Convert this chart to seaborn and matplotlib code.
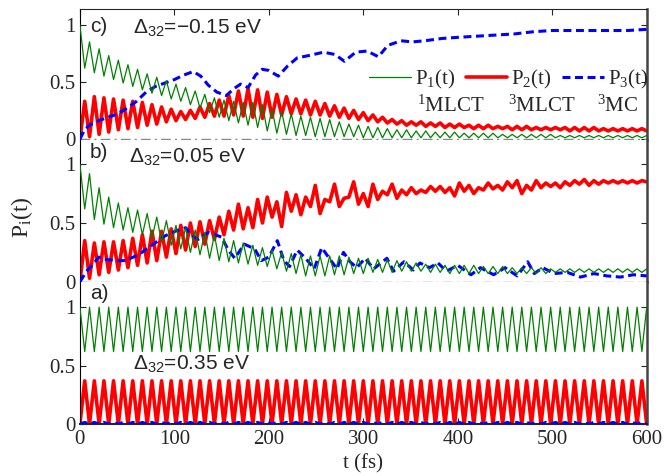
import numpy as np
import pandas as pd
import matplotlib.pyplot as plt
import seaborn as sns

plt.switch_backend('Agg')
sns.set_style("ticks", {"xtick.direction": "in", "ytick.direction": "in"})
plt.rcParams['font.family'] = ['Liberation Serif', 'DejaVu Serif']
plt.rcParams['mathtext.fontset'] = 'custom'
plt.rcParams['mathtext.rm'] = 'Liberation Serif'
plt.rcParams['mathtext.it'] = 'Liberation Serif:italic'
plt.rcParams['mathtext.sf'] = 'Liberation Sans'
plt.rcParams['lines.solid_joinstyle'] = 'round'
plt.rcParams['lines.dash_joinstyle'] = 'round'

# oscillation period (59 green periods in 600 fs)
T_OSC = 600 / 59

# ---- panel c) delta32 = -0.15 eV ----
# green: maxima at t = n*T, minima at t = (n+0.5)*T
c_p1_max = [1.00, .85, .79, .73, .69, .65, .61, .57, .54, .51,
            .48, .45, .42, .39, .36, .34, .33, .32, .32, .30,
            .26, .24, .22, .20, .19, .18, .17, .15, .13, .12,
            .11, .10, .09, .08, .08, .07, .07, .06, .06, .06,
            .05, .05, .05, .05, .04, .04, .04, .04, .04, .04,
            .03, .03, .03, .03, .03, .03, .03, .03, .03, .03]
c_p1_min = [.62, .58, .55, .52, .49, .46, .43, .40, .38, .35,
            .33, .30, .27, .23, .19, .16, .14, .12, .10, .07,
            .05, .04, .03, .03, .02, .02, .02, .02, .02, .01,
            .01, .01, .01, .01, .01, .01, .01, .01, .01, .01,
            .01, .01, .01, .01, .01, .01, .01, .01, .01, .01,
            .01, .01, .01, .01, .01, .01, .01, .01, .01]
# red: minima at t = n*T, maxima at t = (n+0.5)*T
c_p2_min = [.00, .02, .04, .06, .08, .09, .10, .12, .13, .15,
            .16, .17, .18, .19, .20, .20, .21, .20, .19, .18,
            .19, .21, .22, .22, .21, .21, .20, .19, .18, .17,
            .16, .15, .14, .13, .12, .12, .11, .11, .10, .10,
            .10, .09, .09, .09, .09, .08, .08, .08, .08, .08,
            .08, .07, .07, .07, .07, .07, .07, .07, .07, .07]
c_p2_max = [.33, .37, .36, .35, .34, .33, .32, .30, .28, .26,
            .24, .25, .28, .31, .34, .38, .42, .44, .43, .41,
            .39, .37, .35, .34, .33, .31, .29, .27, .25, .23,
            .21, .19, .17, .16, .15, .15, .14, .14, .13, .13,
            .12, .12, .12, .11, .11, .11, .11, .10, .10, .10,
            .10, .10, .10, .10, .09, .09, .09, .09, .09]
c_p3_t = [0, 5, 10, 20, 30, 40, 50, 60, 70, 80,
          90, 100, 110, 120, 128, 136, 145, 155, 163, 170,
          178, 186, 193, 200, 210, 220, 230, 242, 258, 270,
          280, 292, 304, 316, 326, 340, 352, 365, 383, 400,
          420, 440, 460, 481, 500, 520, 540, 560, 580, 600]
c_p3 = [0, .08, .12, .16, .19, .22, .27, .33, .41, .46,
        .49, .52, .56, .59, .55, .47, .41, .38, .44, .48,
        .45, .56, .61, .60, .55, .64, .71, .73, .76, .74,
        .68, .76, .77, .72, .82, .86, .85, .86, .88, .89,
        .90, .91, .92, .94, .95, .95, .95, .95, .95, .96]

# ---- panel b) delta32 = 0.05 eV ----
b_p1_max = [1.00, .92, .80, .72, .67, .63, .61, .58, .55, .52,
            .48, .46, .44, .42, .40, .37, .35, .33, .31, .29,
            .27, .25, .24, .23, .22, .22, .22, .22, .21, .20,
            .20, .19, .19, .18, .17, .16, .15, .15, .14, .14,
            .14, .14, .13, .13, .13, .12, .12, .12, .12, .11,
            .11, .11, .11, .11, .11, .11, .11, .11, .11, .11]
b_p1_min = [.62, .53, .49, .46, .44, .42, .40, .37, .34, .31,
            .28, .25, .23, .20, .18, .17, .16, .15, .14, .13,
            .11, .09, .07, .05, .05, .05, .06, .06, .07, .07,
            .08, .08, .08, .09, .09, .09, .08, .08, .07, .07,
            .07, .07, .07, .07, .07, .07, .07, .07, .07, .08,
            .08, .08, .08, .08, .08, .08, .08, .08, .08]
b_p2_min = [.00, .03, .06, .08, .10, .12, .14, .16, .18, .21,
            .24, .27, .30, .32, .36, .40, .44, .45, .46, .50,
            .55, .47, .60, .57, .64, .58, .68, .64, .72, .66,
            .64, .70, .74, .71, .74, .75, .76, .77, .76, .73,
            .77, .75, .78, .79, .78, .80, .75, .78, .80, .81,
            .80, .82, .83, .82, .83, .84, .84, .84, .84, .85]
b_p2_max = [.35, .33, .34, .34, .35, .37, .40, .43, .43, .45,
            .48, .50, .51, .52, .55, .60, .66, .63, .70, .72,
            .68, .76, .74, .72, .82, .70, .83, .71, .85, .75,
            .83, .77, .83, .78, .80, .78, .81, .81, .80, .84,
            .82, .80, .84, .82, .85, .86, .82, .86, .84, .84,
            .85, .86, .87, .86, .86, .86, .86, .86, .86]
b_p3_t = [0, 7, 13, 20, 28, 38, 48, 62, 76, 90,
          101, 112, 118, 125, 136, 143, 150, 157, 164, 174,
          185, 192, 200, 209, 216, 222, 230, 240, 248, 256,
          264, 272, 279, 286, 293, 302, 311, 325, 332, 343,
          353, 360, 370, 379, 388, 400, 414, 424, 438, 450,
          463, 474, 481, 490, 502, 516, 530, 544, 558, 572,
          586, 600]
b_p3 = [0, .09, .14, .21, .19, .18, .18, .23, .31, .39,
        .43, .46, .40, .36, .42, .40, .38, .27, .20, .32,
        .28, .18, .21, .35, .18, .13, .27, .19, .11, .29,
        .20, .11, .25, .17, .12, .20, .11, .20, .09, .17,
        .10, .16, .12, .16, .09, .14, .06, .12, .06, .12,
        .05, .17, .07, .12, .07, .08, .04, .07, .05, .04,
        .06, .05]

# ---- panel a) delta32 = 0.35 eV ----
a_p1_max = [1.00, 1.00, 1.00, 1.00, 1.00, 1.00, 1.00, 1.00, 1.00, 1.00,
            1.00, 1.00, 1.00, 1.00, 1.00, 1.00, 1.00, 1.00, 1.00, 1.00,
            1.00, 1.00, 1.00, 1.00, 1.00, 1.00, 1.00, 1.00, 1.00, 1.00,
            1.00, 1.00, 1.00, 1.00, 1.00, 1.00, 1.00, 1.00, 1.00, 1.00,
            1.00, 1.00, 1.00, 1.00, 1.00, 1.00, 1.00, 1.00, 1.00, 1.00,
            1.00, 1.00, 1.00, 1.00, 1.00, 1.00, 1.00, 1.00, 1.00, 1.00]
a_p1_min = [.62, .62, .62, .62, .62, .62, .62, .62, .62, .62,
            .62, .62, .62, .62, .62, .62, .62, .62, .62, .62,
            .62, .62, .62, .62, .62, .62, .62, .62, .62, .62,
            .62, .62, .62, .62, .62, .62, .62, .62, .62, .62,
            .62, .62, .62, .62, .62, .62, .62, .62, .62, .62,
            .62, .62, .62, .62, .62, .62, .62, .62, .62]
a_p2_min = [0, 0, 0, 0, 0, 0, 0, 0, 0, 0,
            0, 0, 0, 0, 0, 0, 0, 0, 0, 0,
            0, 0, 0, 0, 0, 0, 0, 0, 0, 0,
            0, 0, 0, 0, 0, 0, 0, 0, 0, 0,
            0, 0, 0, 0, 0, 0, 0, 0, 0, 0,
            0, 0, 0, 0, 0, 0, 0, 0, 0, 0]
a_p2_max = [.37, .37, .37, .37, .37, .37, .37, .37, .37, .37,
            .37, .37, .37, .37, .37, .37, .37, .37, .37, .37,
            .37, .37, .37, .37, .37, .37, .37, .37, .37, .37,
            .37, .37, .37, .37, .37, .37, .37, .37, .37, .37,
            .37, .37, .37, .37, .37, .37, .37, .37, .37, .37,
            .37, .37, .37, .37, .37, .37, .37, .37, .37]
a_p3_min = a_p2_min
a_p3_max = [.015, .015, .015, .015, .015, .015, .015, .015, .015, .015,
            .015, .015, .015, .015, .015, .015, .015, .015, .015, .015,
            .015, .015, .015, .015, .015, .015, .015, .015, .015, .015,
            .015, .015, .015, .015, .015, .015, .015, .015, .015, .015,
            .015, .015, .015, .015, .015, .015, .015, .015, .015, .015,
            .015, .015, .015, .015, .015, .015, .015, .015, .015]


def osc_frame(on_grid, half_grid):
    """interleave extrema read at t = n*T and t = (n+0.5)*T"""
    t, p = [], []
    for n, v in enumerate(on_grid):
        t.append(n * T_OSC)
        p.append(v)
        if n < len(half_grid):
            t.append((n + 0.5) * T_OSC)
            p.append(half_grid[n])
    return pd.DataFrame({'t': t, 'P': p})


GREEN, RED, BLUE = '#008000', '#ff0000', '#0000ff'
DASH = (0, (2.6, 1.5))
ZERO_LS = (0, (7, 3, 1.5, 3))

fig = plt.figure(figsize=(6.66, 4.76), dpi=100)
ax_c = fig.add_axes([0.120, 0.706, 0.851, 0.275])
ax_b = fig.add_axes([0.120, 0.408, 0.851, 0.298])
ax_a = fig.add_axes([0.120, 0.109, 0.851, 0.299])

panels = [
    (ax_c, osc_frame(c_p1_max, c_p1_min), osc_frame(c_p2_min, c_p2_max),
     pd.DataFrame({'t': c_p3_t, 'P': c_p3})),
    (ax_b, osc_frame(b_p1_max, b_p1_min), osc_frame(b_p2_min, b_p2_max),
     pd.DataFrame({'t': b_p3_t, 'P': b_p3})),
    (ax_a, osc_frame(a_p1_max, a_p1_min), osc_frame(a_p2_min, a_p2_max),
     osc_frame(a_p3_min, a_p3_max)),
]

for ax, d1, d2, d3 in panels:
    sns.lineplot(data=d1, x='t', y='P', ax=ax, color=GREEN, lw=0.9,
                 estimator=None, zorder=4, label='P$_1$(t)')
    sns.lineplot(data=d2, x='t', y='P', ax=ax, color=RED, lw=2.6,
                 estimator=None, zorder=2, label='P$_2$(t)')
    sns.lineplot(data=d3, x='t', y='P', ax=ax, color=BLUE, lw=2.2,
                 estimator=None, zorder=3, ls=DASH, label='P$_3$(t)')
    ax.set_xlim(0, 600)
    ax.set_yticks([0, 0.5, 1])
    ax.set_yticklabels(['0', '0.5', '1'])
    ax.set_xlabel('')
    ax.set_ylabel('')
    ax.tick_params(axis='y', which='both', left=True, right=True,
                   direction='in', length=4, labelsize=15, pad=3)
    ax.spines['left'].set_color('black')
    ax.spines['right'].set_color('#444444')
    ax.spines['right'].set_linewidth(1.8)
    if ax.legend_:
        ax.legend_.remove()

ax_c.set_ylim(-0.009, 1.138)
ax_b.set_ylim(0.0, 1.206)
ax_a.set_ylim(0.0, 1.217)

for ax in (ax_c, ax_b):
    ax.axhline(0, color='#888888', lw=1.0, ls=ZERO_LS, zorder=1)
    ax.spines['bottom'].set_visible(False)
for ax in (ax_b, ax_a):
    ax.spines['top'].set_visible(False)

ax_c.tick_params(axis='x', bottom=False, top=True, labelbottom=False,
                 direction='in', length=4)
ax_b.tick_params(axis='x', bottom=False, top=False, labelbottom=False)
ax_a.tick_params(axis='x', bottom=True, top=False, direction='in',
                 length=4, labelsize=15, pad=4)
ax_a.set_xticks(range(0, 601, 100))
ax_c.set_xticks(range(0, 601, 100))
ax_a.spines['bottom'].set_linewidth(1.5)
ax_a.set_xlabel('t (fs)', fontsize=15, labelpad=4)

# legend in panel c
h = ax_c.get_lines()[:3]
ax_c.legend(h, ['P$_1$(t)', 'P$_2$(t)', 'P$_3$(t)'], ncol=3, frameon=False,
            loc='center left', bbox_to_anchor=(0.51, 0.46), fontsize=15,
            handlelength=2.0, handletextpad=0.2, columnspacing=0.5,
            borderpad=0, borderaxespad=0)
for x, s in [(0.594, '$^1$MLCT'), (0.755, '$^3$MLCT'), (0.912, '$^3$MC')]:
    ax_c.text(x, 0.26, s, transform=ax_c.transAxes, fontsize=15,
              va='center', ha='left')

sans = ['Liberation Sans', 'DejaVu Sans']
for ax, tag, lab, ty, lx, ly in [
        (ax_c, 'c)', '=\u22120.15 eV', 0.87, 0.094, 0.82),
        (ax_b, 'b)', '=0.05 eV', 0.915, 0.086, 0.845),
        (ax_a, 'a)', '=0.35 eV', 0.915, 0.094, 0.39)]:
    ax.text(0.018, ty, tag, transform=ax.transAxes, fontsize=15,
            family=sans, va='center', ha='left')
    ax.text(lx, ly, '\u0394$_{\\mathsf{32}}$' + lab, transform=ax.transAxes,
            fontsize=15, family=sans, va='baseline', ha='left')

fig.text(0.033, 1 - 217 / 476, 'P$_\\mathrm{i}$(t)', rotation=90,
         fontsize=17, va='center', ha='center')

fig.savefig('out.png', dpi=100)
plt.close(fig)
